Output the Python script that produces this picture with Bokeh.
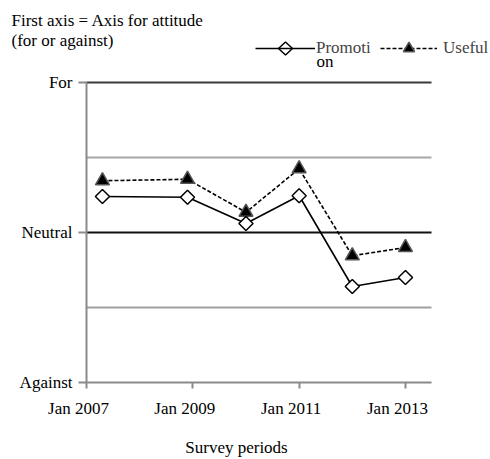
from math import pi

from bokeh.embed import file_html
from bokeh.models import FixedTicker, Label, Legend, LegendItem, PolyAnnotation, Range1d
from bokeh.plotting import figure
from bokeh.resources import INLINE

# Survey periods (decimal years) and attitude scores (-2 = Against, 0 = Neutral, 2 = For)
periods = [2007.3, 2008.9, 2010.0, 2011.0, 2012.0, 2013.0]
promotion = [0.48, 0.47, 0.12, 0.49, -0.72, -0.60]
useful = [0.69, 0.71, 0.27, 0.85, -0.31, -0.20]

x_ticks = [2007, 2009, 2011, 2013]
x_tick_labels = ["Jan 2007", "Jan 2009", "Jan 2011", "Jan 2013"]
y_ticks = [-2, 0, 2]
y_tick_labels = ["Against", "Neutral", "For"]
grid_levels = [2, 1, 0, -1]
grid_colors = ["#3a3a3a", "#a8a8a8", "#111111", "#a0a0a0"]

# plotting area extent in data units
X_START, X_END = 2007, 2013.49
Y_START, Y_END = -2, 2

W, H = 490, 459
LEFT, RIGHT, TOP, BOTTOM = 86, 431, 82, 382           # pixel box of the plotting area
px_x = (RIGHT - LEFT) / (X_END - X_START)
px_y = (BOTTOM - TOP) / (Y_END - Y_START)

FONT = "Liberation Serif"
SIZE = "17px"

# the frame fills the whole canvas so that texts around the plotting area are not clipped;
# the axes are pinned to the edges of the plotting area
p = figure(
    width=W, height=H,
    output_backend="svg", toolbar_location=None,
    x_range=Range1d(X_START - LEFT / px_x, X_START + (W - LEFT) / px_x),
    y_range=Range1d(Y_START - (H - BOTTOM) / px_y, Y_END + TOP / px_y),
    min_border=0,
)
p.outline_line_color = None
p.grid.visible = False
p.background_fill_color = "white"
p.border_fill_color = "white"

# horizontal reference lines
p.segment(x0=X_START, x1=X_END, y0=grid_levels, y1=grid_levels,
          line_color=grid_colors, line_width=2)

# axes
for ax in (p.xaxis[0], p.yaxis[0]):
    ax.axis_line_color = "#8a8a8a"
    ax.axis_line_width = 2
    ax.major_tick_line_color = "#8a8a8a"
    ax.major_tick_line_width = 2
    ax.major_tick_in = 0
    ax.minor_tick_line_color = None
    ax.major_label_text_font = FONT
    ax.major_label_text_font_size = SIZE
    ax.major_label_text_color = "black"

p.yaxis.fixed_location = X_START
p.yaxis.bounds = (Y_START, Y_END)
p.yaxis.ticker = FixedTicker(ticks=y_ticks)
p.yaxis.major_label_overrides = dict(zip(y_ticks, y_tick_labels))
p.yaxis.major_tick_out = 8
p.yaxis.major_label_standoff = 6

p.xaxis.fixed_location = Y_START
p.xaxis.bounds = (X_START, X_END)
p.xaxis.ticker = FixedTicker(ticks=x_ticks)
p.xaxis.major_label_overrides = {t: "" for t in x_ticks}
p.xaxis.major_tick_out = 6

# x tick labels, set slightly left of their ticks
for t, lab in zip(x_ticks, x_tick_labels):
    p.add_layout(Label(x=t, y=Y_START, x_offset=-8, y_offset=-26, text=lab,
                       text_align="center", text_baseline="middle",
                       text_font=FONT, text_font_size=SIZE, text_color="black"))

p.add_layout(Label(x=X_START, y=Y_START, x_offset=150, y_offset=-65,
                   text="Survey periods", text_align="center", text_baseline="middle",
                   text_font=FONT, text_font_size=SIZE, text_color="black"))

# series
l_prom = p.line(periods, promotion, line_color="black", line_width=1.6)
l_use = p.line(periods, useful, line_color="black", line_width=1.6, line_dash="4 2")
s_use = p.scatter(periods, useful, marker="triangle", size=14,
                  fill_color="black", line_color="#555555", line_width=1.5)
s_prom = p.scatter(periods, promotion, marker="square", angle=pi / 4, size=10,
                   fill_color="white", line_color="black", line_width=1.5)

# heading
p.add_layout(Label(x=X_START, y=Y_END, x_offset=-75, y_offset=62,
                   text="First axis = Axis for attitude",
                   text_baseline="alphabetic", text_font=FONT,
                   text_font_size=SIZE, text_color="black"))
p.add_layout(Label(x=X_START, y=Y_END, x_offset=-75, y_offset=42,
                   text="(for or against)",
                   text_baseline="alphabetic", text_font=FONT,
                   text_font_size=SIZE, text_color="black"))

# legends (key row centred 48 px below the top edge)
KEY_Y = H - 48
common = dict(padding=0, margin=0, border_line_color=None, background_fill_alpha=0,
              label_text_font=FONT, label_text_font_size=SIZE,
              glyph_height=28, label_text_baseline="alphabetic")
leg_prom = Legend(items=[LegendItem(label="Promoti", renderers=[l_prom])],
                  location=(255, KEY_Y - 14), glyph_width=60, label_standoff=1,
                  label_height=20, **common)
leg_use = Legend(items=[LegendItem(label="Useful", renderers=[l_use, s_use])],
                 location=(380, KEY_Y - 14), glyph_width=57, label_standoff=6,
                 label_height=26, **common)
p.add_layout(leg_prom)
p.add_layout(leg_use)

# open diamond key for the solid series (legend markers are drawn unrotated)
kx, ky, hw, hh = 285, KEY_Y, 7, 6.5
p.add_layout(PolyAnnotation(xs=[kx - hw, kx, kx + hw, kx], ys=[ky, ky + hh, ky, ky - hh],
                            xs_units="screen", ys_units="screen",
                            fill_color="white", fill_alpha=1,
                            line_color="black", line_alpha=1, line_width=1.5))

p.add_layout(Label(x=X_START, y=Y_END, x_offset=230, y_offset=21, text="on",
                   text_baseline="alphabetic", text_font=FONT,
                   text_font_size=SIZE, text_color="black"))

open("out.html", "w").write(file_html(p, INLINE))
